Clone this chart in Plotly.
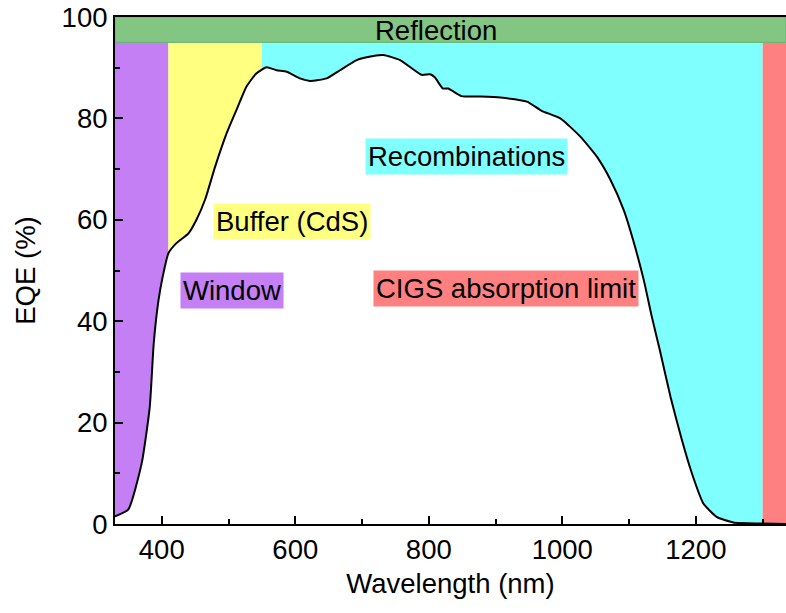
import plotly.graph_objects as go

# EQE spectrum of the CIGS cell
wavelength_nm = [330, 350, 370, 382, 388, 395, 401, 410, 422, 440, 452, 465, 480, 497, 512,
                 527, 542, 557, 572, 587, 607, 622, 647, 667, 692, 717, 732, 757, 789, 802,
                 809, 821, 829, 849, 877, 907, 947, 969, 997, 1027, 1052, 1072, 1092, 1106,
                 1122, 1134, 1146, 1162, 1179, 1194, 1211, 1231, 1256, 1296, 1335]
eqe_pct = [1.5, 2.9, 12.0, 23.0, 35.6, 44.0, 48.5, 53.4, 55.4, 57.3, 60.0, 64.0, 70.5, 77.0, 81.7,
           86.3, 88.9, 90.1, 89.5, 89.2, 87.9, 87.4, 87.9, 89.5, 91.5, 92.3, 92.5, 91.5, 88.6, 88.7,
           88.1, 85.9, 85.9, 84.4, 84.3, 84.1, 83.3, 81.5, 80.0, 76.4, 72.4, 67.9, 61.9, 56.0,
           48.1, 40.9, 34.3, 25.1, 16.6, 10.0, 4.1, 1.4, 0.3, 0.1, 0.0]

# Loss regions: (label, start nm, end nm, colour)
region_names = ["Window", "Buffer (CdS)", "Recombinations", "CIGS absorption limit"]
region_start = [330, 410, 550, 1300]
region_end = [410, 550, 1300, 1335]
region_colors = ["#C47FF5", "#FFFF80", "#80FFFF", "#FF8080"]
reflection_level = 95
reflection_color = "#83C583"

# Label anchor positions (nm, EQE %)
label_x = [505, 595, 857, 916]
label_y = [46.0, 59.6, 72.4, 46.4]
reflection_label_x = 811
reflection_label_y = 97.3

x_range = [330, 1335]
y_range = [0, 100]
font_family = "Liberation Sans, Arial, sans-serif"
fs = 27.5

fig = go.Figure()

shapes = []
for x0, x1, col in zip(region_start, region_end, region_colors):
    shapes.append(dict(type="rect", xref="x", yref="y", x0=x0, x1=x1,
                       y0=0, y1=reflection_level, fillcolor=col,
                       line=dict(width=0), layer="below"))
shapes.append(dict(type="rect", xref="x", yref="y", x0=x_range[0], x1=x_range[1],
                   y0=reflection_level, y1=100, fillcolor=reflection_color,
                   line=dict(width=1, color="#5FB36F"), layer="below"))

fig.add_trace(go.Scatter(
    x=wavelength_nm, y=eqe_pct, mode="lines",
    line=dict(color="black", width=2, shape="spline", smoothing=0.5),
    fill="tozeroy", fillcolor="white",
    hoverinfo="skip", showlegend=False,
))

annotations = [dict(x=reflection_label_x, y=reflection_label_y, xref="x", yref="y",
                    text="Reflection", showarrow=False,
                    font=dict(size=fs, color="black", family=font_family))]
for name, lx, ly, col in zip(region_names, label_x, label_y, region_colors):
    annotations.append(dict(x=lx, y=ly, xref="x", yref="y", text=name, showarrow=False,
                            bgcolor=col, borderpad=2,
                            font=dict(size=fs, color="black", family=font_family)))

fig.update_layout(
    width=786, height=613,
    margin=dict(l=115, r=0, t=17, b=89),
    paper_bgcolor="white", plot_bgcolor="white",
    shapes=shapes, annotations=annotations,
    font=dict(family=font_family, size=fs, color="black"),
)

fig.update_xaxes(
    range=x_range, showgrid=False, zeroline=False,
    showline=True, linecolor="black", linewidth=2, mirror=True,
    ticks="inside", ticklen=8, tickwidth=1.5, tickcolor="black",
    tickvals=[400, 600, 800, 1000, 1200],
    minor=dict(ticks="inside", ticklen=5, tickwidth=1.5, tickcolor="black",
               tickvals=[500, 700, 900, 1100, 1300]),
    tickfont=dict(size=fs, family=font_family),
    title=dict(text="Wavelength (nm)", font=dict(size=fs, family=font_family), standoff=10),
)
fig.update_yaxes(
    range=y_range, showgrid=False, zeroline=False,
    showline=True, linecolor="black", linewidth=2, mirror=False,
    ticks="inside", ticklen=8, tickwidth=1.5, tickcolor="black",
    tickvals=[0, 20, 40, 60, 80, 100],
    minor=dict(ticks="inside", ticklen=5, tickwidth=1.5, tickcolor="black",
               tickvals=[10, 30, 50, 70, 90]),
    tickfont=dict(size=fs, family=font_family),
    title=dict(text="EQE (%)", font=dict(size=fs, family=font_family), standoff=18),
)

fig.write_html("out.html")
